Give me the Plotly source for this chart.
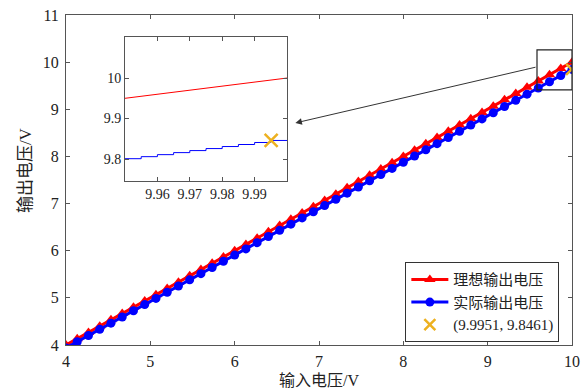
import plotly.graph_objects as go

# ---- data ----
input_v = [4.0, 4.1333, 4.2667, 4.4, 4.5333, 4.6667, 4.8, 4.9333, 5.0667, 5.2,
           5.3333, 5.4667, 5.6, 5.7333, 5.8667, 6.0, 6.1333, 6.2667, 6.4, 6.5333,
           6.6667, 6.8, 6.9333, 7.0667, 7.2, 7.3333, 7.4667, 7.6, 7.7333, 7.8667,
           8.0, 8.1333, 8.2667, 8.4, 8.5333, 8.6667, 8.8, 8.9333, 9.0667, 9.2,
           9.3333, 9.4667, 9.6, 9.7333, 9.8667, 10.0]
ideal_v = [4.0, 4.1333, 4.2667, 4.4, 4.5333, 4.6667, 4.8, 4.9333, 5.0667, 5.2,
           5.3333, 5.4667, 5.6, 5.7333, 5.8667, 6.0, 6.1333, 6.2667, 6.4, 6.5333,
           6.6667, 6.8, 6.9333, 7.0667, 7.2, 7.3333, 7.4667, 7.6, 7.7333, 7.8667,
           8.0, 8.1333, 8.2667, 8.4, 8.5333, 8.6667, 8.8, 8.9333, 9.0667, 9.2,
           9.3333, 9.4667, 9.6, 9.7333, 9.8667, 10.0]
actual_v = [3.9384, 4.0697, 4.2010, 4.3322, 4.4635, 4.5948, 4.7261, 4.8573, 4.9886, 5.1199,
            5.2512, 5.3825, 5.5138, 5.6450, 5.7763, 5.9076, 6.0389, 6.1702, 6.3014, 6.4327,
            6.5640, 6.6953, 6.8265, 6.9578, 7.0891, 7.2204, 7.3517, 7.4830, 7.6142, 7.7455,
            7.8768, 8.0081, 8.1394, 8.2706, 8.4019, 8.5332, 8.6645, 8.7957, 8.9270, 9.0583,
            9.1896, 9.3209, 9.4522, 9.5834, 9.7147, 9.8460]

# inset (zoomed) data
zoom_x_ideal = [9.95, 10.0]
zoom_y_ideal = [9.95, 10.0]
zoom_x_actual = [9.95, 9.955, 9.96, 9.965, 9.97, 9.975, 9.98, 9.985, 9.99, 9.995, 10.0]
zoom_y_actual = [9.801, 9.806, 9.811, 9.816, 9.821, 9.826, 9.831, 9.836, 9.841, 9.846, 9.846]

point_x = [9.9951]
point_y = [9.8461]
point_label = "(9.9951, 9.8461)"

names = ["理想输出电压", "实际输出电压"]
x_title = "输入电压/V"
y_title = "输出电压/V"
x_ticks_main = [4, 5, 6, 7, 8, 9, 10]
y_ticks_main = [4, 5, 6, 7, 8, 9, 10, 11]
x_ticks_zoom = [9.96, 9.97, 9.98, 9.99]
y_ticks_zoom = [9.8, 9.9, 10]

RED = "#FF0000"
BLUE = "#0000FF"
ORANGE = "#EDB120"
AX = "#555555"
TXT = "#222222"
SERIF = "Liberation Serif, serif"
CJK = "Liberation Serif, Noto Sans CJK SC, serif"

fig = go.Figure()
fig.add_trace(go.Scatter(x=input_v, y=ideal_v, mode="lines+markers", name=names[0],
                         line=dict(color=RED, width=3),
                         marker=dict(symbol="triangle-up", size=10, color=RED)))
fig.add_trace(go.Scatter(x=input_v, y=actual_v, mode="lines+markers", name=names[1],
                         line=dict(color=BLUE, width=3),
                         marker=dict(symbol="circle", size=9, color=BLUE)))
fig.add_trace(go.Scatter(x=point_x, y=point_y, mode="markers", name=point_label,
                         marker=dict(symbol="x-thin", size=11, color=ORANGE,
                                     line=dict(color=ORANGE, width=2.5))))

# inset traces
fig.add_trace(go.Scatter(x=zoom_x_ideal, y=zoom_y_ideal, mode="lines", xaxis="x2", yaxis="y2",
                         line=dict(color=RED, width=1), showlegend=False))
fig.add_trace(go.Scatter(x=zoom_x_actual, y=zoom_y_actual, mode="lines", xaxis="x2", yaxis="y2",
                         line=dict(color=BLUE, width=1, shape="hv"), showlegend=False))
fig.add_trace(go.Scatter(x=point_x, y=point_y, mode="markers", xaxis="x2", yaxis="y2",
                         marker=dict(symbol="x-thin", size=13, color=ORANGE,
                                     line=dict(color=ORANGE, width=2.5)),
                         showlegend=False))

def axis(size, **kw):
    d = dict(showgrid=False, zeroline=False, showline=True, linecolor=AX, linewidth=1,
             mirror="ticks", ticks="inside", ticklen=4, tickcolor=AX, automargin=False,
             tickfont=dict(family=SERIF, size=size, color=TXT))
    d.update(kw)
    return d

fig.update_layout(
    template="none",
    width=584, height=390,
    margin=dict(l=66, r=12, t=15, b=45),
    paper_bgcolor="white", plot_bgcolor="white",
    font=dict(family=CJK, size=15, color=TXT),
    xaxis=axis(16, range=[4, 10], tickvals=x_ticks_main, domain=[0, 1], ticklabelstandoff=2),
    yaxis=axis(16, range=[4, 11], tickvals=y_ticks_main, domain=[0, 1], ticklabelstandoff=3),
    xaxis2=axis(14, range=[9.95, 10.0], tickvals=x_ticks_zoom, domain=[0.1166, 0.4368], anchor="y2"),
    yaxis2=axis(14, range=[9.746, 10.101], tickvals=y_ticks_zoom, domain=[0.497, 0.933], anchor="x2"),
    legend=dict(x=0.975, y=0.008, xanchor="right", yanchor="bottom",
                bgcolor="white", bordercolor="#333", borderwidth=1,
                font=dict(family=CJK, size=15, color=TXT),
                tracegroupgap=0, itemwidth=37),
    shapes=[dict(type="rect", xref="x", yref="y", x0=9.585, x1=10.0, y0=9.41, y1=10.26,
                 line=dict(color="#222", width=1.2), fillcolor="rgba(0,0,0,0)")],
)

# axis titles
fig.add_annotation(text=x_title, xref="paper", yref="paper", x=0.5, y=0, yshift=-35,
                   showarrow=False, font=dict(family=CJK, size=16, color=TXT),
                   xanchor="center", yanchor="middle")
fig.add_annotation(text=y_title, xref="paper", yref="paper", x=0, y=0.53, xshift=-41,
                   showarrow=False, textangle=-90, font=dict(family=CJK, size=17, color=TXT),
                   xanchor="center", yanchor="middle")

# arrow from zoom rectangle to inset (main data coordinates)
fig.add_annotation(x=6.72, y=8.71, xref="x", yref="y", ax=9.585, ay=9.90, axref="x", ayref="y",
                   showarrow=True, arrowhead=2, arrowsize=1.3, arrowwidth=1, arrowcolor="#333",
                   text="", standoff=0, startstandoff=0)

fig.write_html("out.html")
